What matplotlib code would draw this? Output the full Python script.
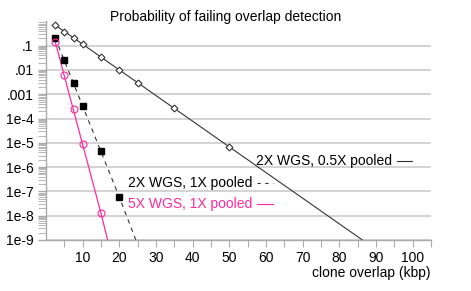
import matplotlib
matplotlib.use("Agg")
import matplotlib.pyplot as plt
from matplotlib.ticker import FixedLocator, LogLocator, NullFormatter

plt.rcParams['font.family'] = ['Liberation Sans', 'DejaVu Sans']

# data
x_pts = [2.5, 5, 7.5, 10, 15, 20, 25, 35, 50]
p_05x = [0.71, 0.38, 0.21, 0.117, 0.033, 0.0098, 0.0029, 2.6e-4, 6.8e-6]
x_05x_line = [2.5, 50, 86.3]
p_05x_line = [0.71, 6.8e-6, 1e-9]

x_1x = [2.5, 5, 7.5, 10, 15, 20]
p_1x = [0.21, 0.025, 0.003, 3.3e-4, 4.4e-6, 5.8e-8]
x_1x_line = [2.5, 20, 24.5]
p_1x_line = [0.21, 5.8e-8, 1e-9]

x_5x = [2.5, 5, 7.5, 10, 15]
p_5x = [0.146, 0.006, 2.4e-4, 8.9e-6, 1.26e-8]
x_5x_line = [2.5, 15, 16.8]
p_5x_line = [0.146, 1.26e-8, 1e-9]

ytick_vals = [1e-1, 1e-2, 1e-3, 1e-4, 1e-5, 1e-6, 1e-7, 1e-8, 1e-9]
ytick_labels = ['.1', '.01', '.001', '1e-4', '1e-5', '1e-6', '1e-7', '1e-8', '1e-9']

pink = '#ff2a9f'
dark = '#333333'
axis_gray = '#aaaaaa'
fs = 10

fig = plt.figure(figsize=(4.71, 2.91), dpi=100)
ax = fig.add_axes([0.0977, 0.1753, 0.8173, 0.7512])

ax.set_yscale('log')
ax.set_xlim(0, 105)
ax.set_ylim(1e-9, 1)

for v in ytick_vals:
    ax.axhline(v, color='#d4d4d4', lw=1.5, zorder=0)

# 2X WGS, 0.5X pooled
ax.plot(x_05x_line, p_05x_line, color=dark, lw=0.8, zorder=2)
ax.plot(x_pts, p_05x, ls='none', marker='D', ms=3.5, mfc='white', mec=dark, mew=0.8, zorder=3)

# 2X WGS, 1X pooled
ax.plot(x_1x_line, p_1x_line, color=dark, lw=0.8, ls=(0, (4, 4)), zorder=2)
ax.plot(x_1x, p_1x, ls='none', marker='s', ms=5, mfc='black', mec='black', zorder=3)

# 5X WGS, 1X pooled
ax.plot(x_5x_line, p_5x_line, color=pink, lw=0.9, zorder=2)
ax.plot(x_5x, p_5x, ls='none', marker='o', ms=5, mfc='none', mec=pink, mew=0.8, zorder=3)

ax.yaxis.set_major_locator(FixedLocator(ytick_vals))
ax.set_yticklabels(ytick_labels)
ax.yaxis.set_minor_locator(LogLocator(base=10, subs=range(2, 10), numticks=20))
ax.yaxis.set_minor_formatter(NullFormatter())

ax.set_xticks(range(5, 106, 5))
ax.set_xticklabels(['' if t % 10 else str(t) for t in range(5, 106, 5)])

ax.tick_params(axis='both', which='both', direction='out', color=axis_gray,
               labelsize=fs, labelcolor='black', pad=2)
ax.tick_params(axis='y', which='major', length=6, width=1, pad=3)
ax.tick_params(axis='y', which='minor', length=6, width=0.6)
ax.tick_params(axis='x', which='major', length=5, width=0.8, pad=3)

for s in ['top', 'right']:
    ax.spines[s].set_visible(False)
for s in ['left', 'bottom']:
    ax.spines[s].set_color(axis_gray)
    ax.spines[s].set_linewidth(1)

ax.set_xlabel('clone overlap (kbp)', fontsize=fs)
ax.xaxis.set_label_coords(1.0, -0.152)
ax.xaxis.label.set_horizontalalignment('right')
ax.xaxis.label.set_verticalalignment('center')

fig.text(0.48, 0.942, 'Probability of failing overlap detection', fontsize=fs,
         ha='center', va='center')

# key entries
tr = ax.transAxes
ax.text(0.898, 0.361, '2X WGS, 0.5X pooled', transform=tr, fontsize=fs, ha='right', va='center', color='black')
ax.plot([0.911, 0.950], [0.361, 0.361], transform=tr, color=dark, lw=0.8, clip_on=False)
ax.text(0.537, 0.259, '2X WGS, 1X pooled', transform=tr, fontsize=fs, ha='right', va='center', color='black')
ax.plot([0.548, 0.589], [0.259, 0.259], transform=tr, color=dark, lw=0.8, ls=(0, (3, 4)), clip_on=False)
ax.text(0.537, 0.163, '5X WGS, 1X pooled', transform=tr, fontsize=fs, ha='right', va='center', color=pink)
ax.plot([0.548, 0.589], [0.163, 0.163], transform=tr, color=pink, lw=0.8, clip_on=False)

fig.savefig('out.png', dpi=100)
